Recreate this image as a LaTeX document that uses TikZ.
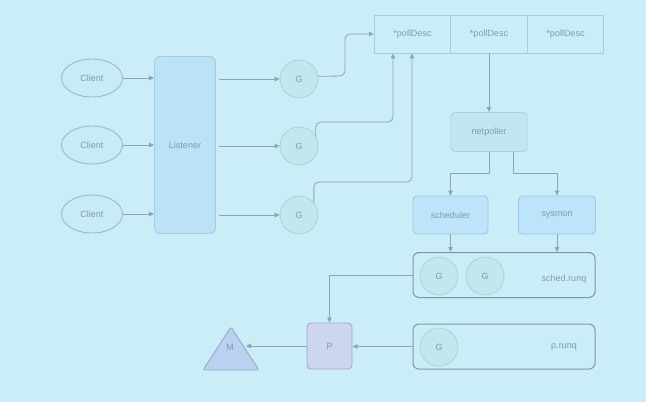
\documentclass[tikz,border=0pt]{standalone}
\usepackage{fontspec}
\setmainfont{Liberation Sans}
\usetikzlibrary{arrows.meta,calc,shapes.geometric}
\definecolor{bgc}{HTML}{CBEDF7}
\definecolor{txtc}{HTML}{7F9CA9}
\definecolor{linec}{HTML}{8CA6B2}
\definecolor{clf}{HTML}{C8EBF5}
\definecolor{cld}{HTML}{9BB9C6}
\definecolor{lsf}{HTML}{BCE2F6}
\definecolor{lsd}{HTML}{A0CCE6}
\definecolor{gf}{HTML}{C1E8EC}
\definecolor{gd}{HTML}{AAD4DA}
\definecolor{pdf}{HTML}{C9EDF9}
\definecolor{pdd}{HTML}{A2CEDF}
\definecolor{npf}{HTML}{C2E7F1}
\definecolor{npd}{HTML}{A8D4E2}
\definecolor{scf}{HTML}{BDE4F8}
\definecolor{scd}{HTML}{9DCAE6}
\definecolor{rqd}{HTML}{7D97A3}
\definecolor{pf}{HTML}{CDD5F1}
\definecolor{pd}{HTML}{A1AACB}
\definecolor{mf}{HTML}{BAD2EF}
\definecolor{md}{HTML}{94AACB}
\tikzset{
  lbl/.style={font=\fontsize{9}{11}\selectfont, text=txtc},
  client/.style={lbl, ellipse, draw=cld, fill=clf, line width=0.9pt, minimum width=61pt, minimum height=38pt, inner sep=0pt},
  gnode/.style={lbl, circle, draw=gd, fill=gf, line width=0.8pt, minimum size=38pt, inner sep=0pt},
  pdcell/.style={lbl, rectangle, draw=pdd, fill=pdf, line width=0.9pt, minimum width=76.5pt, minimum height=38pt, inner sep=0pt},
  bluebox/.style={lbl, rectangle, rounded corners=4pt, draw=scd, fill=scf, line width=0.9pt, minimum width=75pt, minimum height=38pt, inner sep=0pt},
  queue/.style={rectangle, rounded corners=6pt, draw=rqd, line width=1pt, minimum width=182pt, minimum height=45pt, inner sep=0pt},
  conn/.style={draw=linec, line width=0.8pt, -{Triangle[length=5pt,width=4.5pt]}},
}
\begin{document}
\begin{tikzpicture}[x=1pt,y=-1pt]
\fill[bgc] (0,0) rectangle (646,402);
\useasboundingbox (0,0) rectangle (646,402);

% clients
\node[client] (c1) at (92,78) {Client};
\node[client] (c2) at (92,145) {Client};
\node[client] (c3) at (92,214) {Client};

% listener
\node[lbl, rectangle, rounded corners=6pt, draw=lsd, fill=lsf, line width=0.9pt, minimum width=61pt, minimum height=177pt, inner sep=0pt] (ls) at (185,145) {Listener};

% goroutines
\node[gnode] (g1) at (299,79) {G};
\node[gnode] (g2) at (299,146) {G};
\node[gnode] (g3) at (299,215) {G};

% pollDesc table
\node[pdcell] (pd1) at (412.5,34) {*pollDesc};
\node[pdcell] (pd2) at (489,34) {*pollDesc};
\node[pdcell] (pd3) at (565.5,34) {*pollDesc};

% netpoller, scheduler, sysmon
\node[lbl, rectangle, rounded corners=4pt, draw=npd, fill=npf, line width=0.9pt, minimum width=76pt, minimum height=39pt, inner sep=0pt] (np) at (489,132) {netpoller};
\node[bluebox] (sch) at (450.5,215) {scheduler};
\node[bluebox, minimum width=77pt] (sys) at (557,215) {sysmon};

% queues
\node[queue] (sr) at (504,275) {};
\node[gnode] (sg1) at (439,276) {G};
\node[gnode] (sg2) at (485,276) {G};
\node[lbl] (srl) at (564,279) {sched.runq};

\node[queue] (pr) at (504,346.5) {};
\node[gnode] (pg1) at (439,347) {G};
\node[lbl] (prl) at (564,347) {p.runq};

% P and M
\node[lbl, rectangle, rounded corners=4pt, draw=pd, fill=pf, line width=0.9pt, minimum width=45pt, minimum height=46pt, inner sep=0pt] (pp) at (329.5,346) {P};
\filldraw[fill=mf, draw=md, line width=0.9pt, rounded corners=2pt] (203,370) -- (231,327) -- (259,370) -- cycle;
\node[lbl] (m) at (230,347) {M};
\coordinate (mr) at (246,346);

% connectors
\draw[conn] (c1.east) -- (c1.east -| ls.west);
\draw[conn] (c2.east) -- (c2.east -| ls.west);
\draw[conn] (c3.east) -- (c3.east -| ls.west);
\draw[conn] ($(ls.east |- g1.west)+(3,0)$) -- (g1.west);
\draw[conn] ($(ls.east |- g2.west)+(3,0)$) -- (g2.west);
\draw[conn] ($(ls.east |- g3.west)+(3,0)$) -- (g3.west);

\coordinate (k1) at (345,76);
\coordinate (k2) at (393,122);
\coordinate (k3) at (412,182);
\draw[conn, rounded corners=5pt] (g1.8) -- (k1) |- (pd1.west);
\draw[conn, rounded corners=5pt] (g2.30) |- (k2) -- (k2 |- pd1.south);
\draw[conn, rounded corners=5pt] (g3.40) |- (k3) -- (k3 |- pd1.south);

\draw[conn] (pd2.south) -- (np.north);
\coordinate (b1) at (450.5,173);
\coordinate (b2) at (557,173);
\draw[conn] (np.south) |- (b1) -- (sch.north);
\draw[conn] ($(np.south)+(24,0)$) |- (b2) -- (sys.north);
\draw[conn] (sch.south) -- (sch.south |- sr.north);
\draw[conn] (sys.south) -- (sys.south |- sr.north);

\draw[conn] (sr.west) -| (pp.north);
\draw[conn] (pr.west) -- (pr.west -| pp.east);
\draw[conn] (pp.west) -- (mr);
\end{tikzpicture}
\end{document}
